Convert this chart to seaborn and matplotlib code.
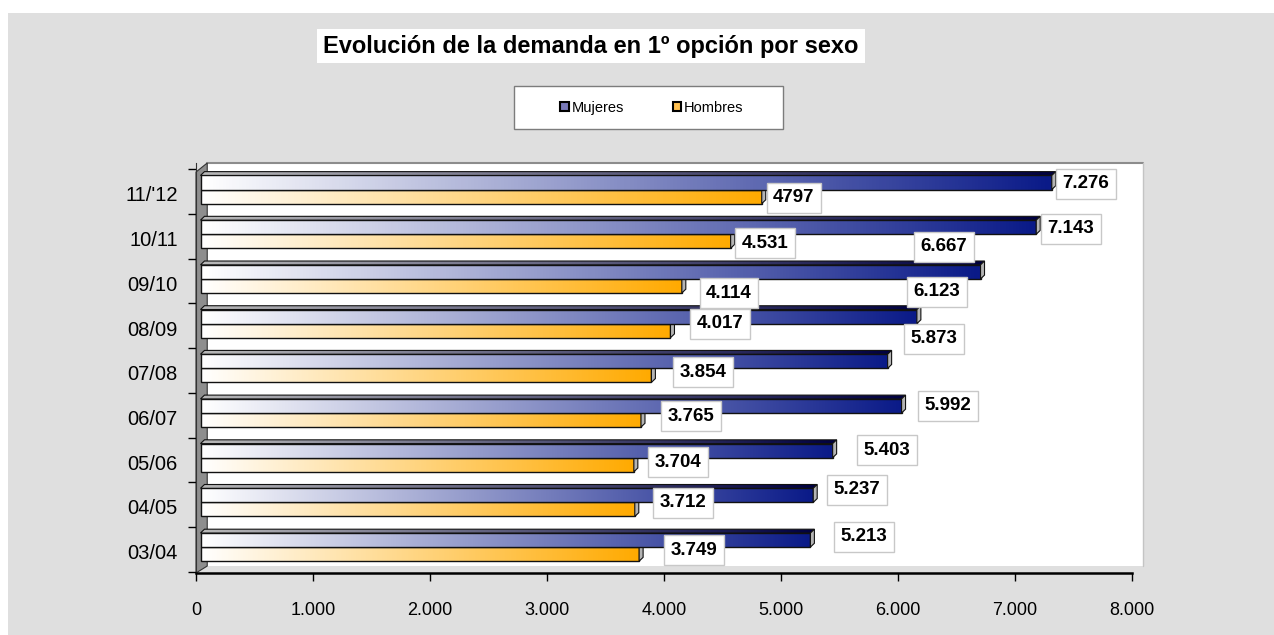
import numpy as np
import pandas as pd
import matplotlib
matplotlib.use('Agg')
import matplotlib.pyplot as plt
import seaborn as sns
from matplotlib.patches import Rectangle, Polygon, Patch
from matplotlib.colors import LinearSegmentedColormap
from matplotlib.transforms import ScaledTranslation

# data
cursos = ['03/04', '04/05', '05/06', '06/07', '07/08', '08/09', '09/10', '10/11', "11/'12"]
mujeres = [5213, 5237, 5403, 5992, 5873, 6123, 6667, 7143, 7276]
hombres = [3749, 3712, 3704, 3765, 3854, 4017, 4114, 4531, 4797]
etiq_mujeres = ['5.213', '5.237', '5.403', '5.992', '5.873', '6.123', '6.667', '7.143', '7.276']
etiq_hombres = ['3.749', '3.712', '3.704', '3.765', '3.854', '4.017', '4.114', '4.531', '4797']
xticks = [0, 1000, 2000, 3000, 4000, 5000, 6000, 7000, 8000]
xtick_labels = ['0', '1.000', '2.000', '3.000', '4.000', '5.000', '6.000', '7.000', '8.000']
titulo = 'Evolución de la demanda en 1º opción por sexo'

# where the value boxes sit relative to the bar end / bar centre (as in the original)
off_m = [(496, -0.07), (413, -0.12), (503, -0.01), (435, 0.0), (435, -0.50),
         (210, -0.55), (-274, -0.56), (336, 0.04), (331, 0.03)]
off_h = [(507, -0.09), (450, -0.15), (416, -0.06), (466, -0.09), (479, -0.07),
         (462, -0.15), (442, 0.16), (332, 0.04), (314, 0.03)]

df = pd.DataFrame({
    'curso': cursos * 2,
    'sexo': ['Mujeres'] * len(cursos) + ['Hombres'] * len(cursos),
    'demanda': mujeres + hombres,
})

sns.set_style('white')
plt.rcParams['font.family'] = ['Liberation Sans', 'DejaVu Sans']
plt.rcParams['text.color'] = 'black'
plt.rcParams['xtick.color'] = 'black'
plt.rcParams['ytick.color'] = 'black'

W, H = 1274, 635
fig = plt.figure(figsize=(W / 100, H / 100), dpi=100, facecolor='white')
fig.add_artist(Rectangle((8 / W, 0), 1, 1 - 13 / H, transform=fig.transFigure,
                         fc='#dfdfdf', ec='none', zorder=-10))

ax = fig.add_axes([196 / W, 62 / H, 936 / W, 410 / H])
ax.set_facecolor('none')

sns.barplot(data=df, x='demanda', y='curso', hue='sexo', order=cursos[::-1],
            hue_order=['Mujeres', 'Hombres'], orient='h', width=0.63, gap=0,
            errorbar=None, saturation=1, legend=False, ax=ax,
            edgecolor='#111111', linewidth=1)

cmap_m = LinearSegmentedColormap.from_list('m', ['#ffffff', '#0a1a88'])
cmap_h = LinearSegmentedColormap.from_list('h', ['#ffffff', '#ffaa00'])
cmap_mt = LinearSegmentedColormap.from_list('mt', ['#b8b8b8', '#000040'])
grad = np.linspace(0, 1, 256).reshape(1, -1)
dx, dy = 34, 0.085
# bars sit a few pixels in front of the back wall
shift = ax.transData + ScaledTranslation(0.045, 0, fig.dpi_scale_trans)

for cont, cmap, z in zip(ax.containers, [cmap_m, cmap_h], [2, 1]):
    for bar in cont:
        x0, y0 = bar.get_x(), bar.get_y()
        w, h = bar.get_width(), bar.get_height()
        x1, y1 = x0 + w, y0 + h
        bar.set_facecolor('none')
        bar.set_zorder(z + 0.1)
        bar.set_transform(shift)
        im = ax.imshow(grad, cmap=cmap, extent=(x0, x1, y1, y0), aspect='auto',
                       interpolation='bilinear', zorder=z)
        im.set_transform(shift)
        if z == 2:
            top = Polygon([(x0, y0), (x0 + dx, y0 - dy), (x1 + dx, y0 - dy), (x1, y0)],
                          closed=True, fc='none', ec='#111111', lw=0.8, zorder=z + 0.2,
                          transform=shift)
            ax.add_patch(top)
            im = ax.imshow(grad, cmap=cmap_mt, extent=(x0, x1 + dx, y0, y0 - dy),
                           aspect='auto', interpolation='bilinear', zorder=z + 0.15)
            im.set_transform(shift)
            im.set_clip_path(top)
        cap = Polygon([(x1, y1), (x1, y0), (x1 + dx, y0 - dy), (x1 + dx, y1 - dy)],
                      closed=True, fc='#b4b4b4', ec='#111111', lw=0.8, zorder=z + 0.2,
                      transform=shift)
        ax.add_patch(cap)

# value boxes
n = len(cursos)
for k in range(n):
    i = n - 1 - k
    ax.text(mujeres[k] + off_m[k][0], i - 0.1575 + off_m[k][1], etiq_mujeres[k],
            ha='center', va='center', fontsize=13.5, fontweight='bold', zorder=6,
            bbox=dict(boxstyle='square,pad=0.35', fc='white', ec='#c8c8c8', lw=1))
    ax.text(hombres[k] + off_h[k][0], i + 0.1575 + off_h[k][1], etiq_hombres[k],
            ha='center', va='center', fontsize=13.5, fontweight='bold', zorder=6,
            bbox=dict(boxstyle='square,pad=0.35', fc='white', ec='#c8c8c8', lw=1))

# 3d walls
ax.add_patch(Rectangle((0.012, 0.017), 0.9998, 0.983, transform=ax.transAxes,
                       fc='white', ec='none', zorder=0.2, clip_on=False))
ax.plot([0.012, 1.0118], [1.0, 1.0], transform=ax.transAxes, color='#8c8c8c',
        lw=1.5, clip_on=False, zorder=0.3)
ax.plot([1.0118, 1.0118], [0.017, 1.0], transform=ax.transAxes, color='#c4c4c4',
        lw=1, clip_on=False, zorder=0.3)
ax.add_patch(Polygon([(0, 0), (0, 0.978), (0.012, 1.0), (0.012, 0.017)], closed=True,
                     transform=ax.transAxes, fc='#8e8e8e', ec='#333333', lw=0.8,
                     zorder=0.5, clip_on=False))

ax.set_xlim(0, 8000)
ax.set_ylim(8.58, -0.593)
ax.set_xticks(xticks, xtick_labels)
ax.set_yticks(np.arange(n) + 0.1, cursos[::-1])
ax.set_yticks(np.arange(n + 1) - 0.45, minor=True)
ax.set_xlabel('')
ax.set_ylabel('')
ax.tick_params(axis='x', direction='out', length=6, width=1, color='black',
               labelsize=13, pad=15, bottom=True)
ax.tick_params(axis='y', which='major', length=0, labelsize=14.5, pad=13)
ax.tick_params(axis='y', which='minor', direction='out', length=6, width=1,
               color='black', left=True)
for s in ['top', 'right']:
    ax.spines[s].set_visible(False)
ax.spines['bottom'].set_color('black')
ax.spines['bottom'].set_linewidth(1.8)
ax.spines['left'].set_color('#333333')
ax.spines['left'].set_linewidth(0.8)

fig.text(591 / W, 1 - 46 / H, titulo, ha='center', va='center', fontsize=17,
         fontweight='bold', bbox=dict(boxstyle='square,pad=0.25', fc='white', ec='none'))

fig.add_artist(Rectangle((514 / W, 1 - 129 / H), 269 / W, 43 / H, transform=fig.transFigure,
                         fc='white', ec='#7c7c7c', lw=1))
handles = [Patch(fc='#7878b8', ec='black', lw=1.5), Patch(fc='#ffc050', ec='black', lw=1.5)]
fig.legend(handles, ['Mujeres', 'Hombres'], loc='center', bbox_to_anchor=(652 / W, 1 - 108 / H),
           ncol=2, frameon=False, fontsize=10.5, handlelength=0.6, handleheight=0.6,
           handletextpad=0.2, columnspacing=3.3)

fig.savefig('out.png', dpi=100, facecolor=fig.get_facecolor())
